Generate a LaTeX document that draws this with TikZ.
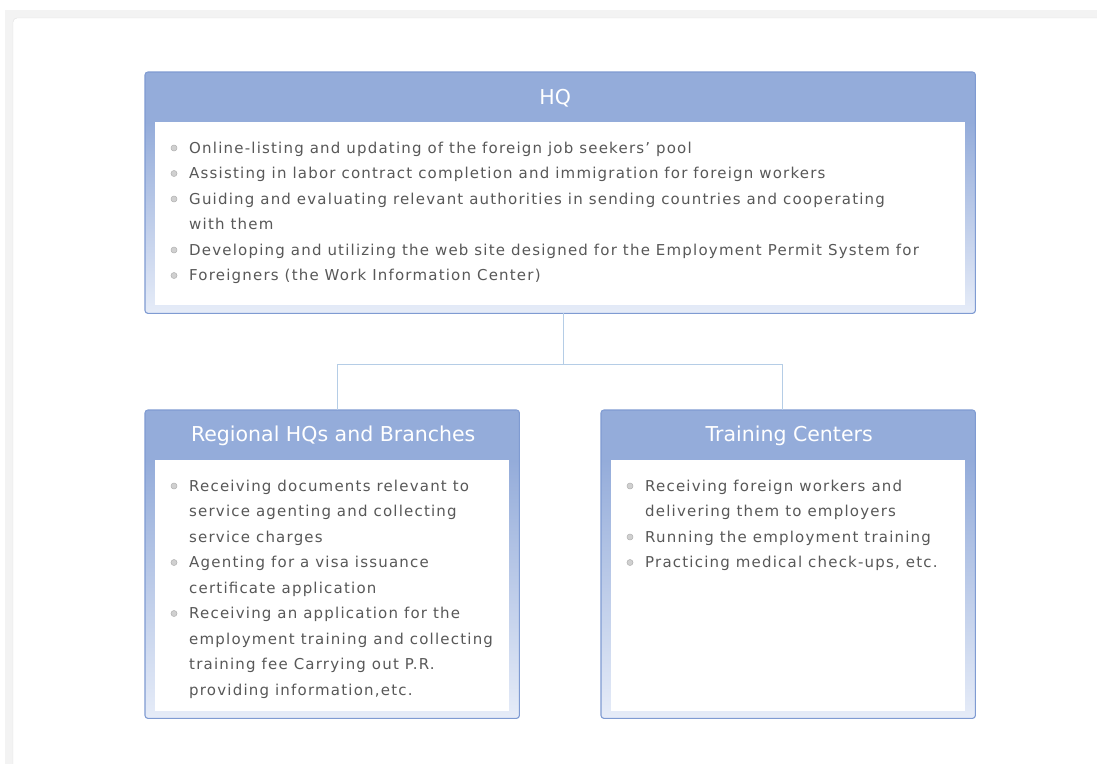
\documentclass[tikz,border=0pt]{standalone}
\usepackage{fontspec}
\setmainfont{DejaVu Sans}
\newfontfamily\itemfont[LetterSpace=8]{DejaVu Sans}
\usetikzlibrary{positioning}

\definecolor{hdrblue}{HTML}{94ACDA}
\definecolor{frameline}{HTML}{7F9BD2}
\definecolor{framefade}{HTML}{E6ECF8}
\definecolor{linkblue}{HTML}{B5CDE6}
\definecolor{itemgray}{HTML}{585858}
\definecolor{bulletgray}{HTML}{D0D0D0}
\definecolor{bulletrim}{HTML}{B0B0B0}
\definecolor{panelband}{HTML}{F3F3F3}
\definecolor{panelline}{HTML}{E0E0E0}

\begin{document}
\begin{tikzpicture}[x=1pt, y=-1pt,
    frame/.style={fill=hdrblue, rounded corners=3pt, anchor=north west, inner sep=0pt},
    fade/.style={top color=hdrblue, bottom color=framefade, rounded corners=2.5pt},
    outline/.style={draw=frameline, line width=1.1pt, rounded corners=3pt},
    body/.style={fill=white, anchor=north west, inner sep=0pt, outer sep=0pt},
    title/.style={text=white, font=\fontsize{20.5}{24}\selectfont},
    item/.style={anchor=base west, inner sep=0pt, text=itemgray, font=\itemfont\fontsize{15}{17}\selectfont},
    bullet/.style={fill=bulletgray, draw=bulletrim, line width=0.5pt},
    link/.style={draw=linkblue, line width=1pt}
]
\useasboundingbox (0,0) rectangle (1097,763);

% Panel
\fill[panelband] (5,10) rectangle (1110,780);
\draw[panelline, fill=white, rounded corners=4pt] (13,18) rectangle (1110,780);

% HQ
\node[frame, minimum width=830pt, minimum height=241pt] (hq) at (145,72) {};
\shade[fade] (hq.west |- 0,122) rectangle (hq.south east);
\draw[outline] (hq.north west) rectangle (hq.south east);
\node[body, minimum width=810pt, minimum height=183pt] (hqbody) at (155,122) {};
\node[title] (hqtitle) at ([xshift=-5pt, yshift=-26pt]hq.north) {HQ};
\foreach \txt [count=\i] in {Online-listing and updating of the foreign job seekers’ pool,
    Assisting in labor contract completion and immigration for foreign workers,
    Guiding and evaluating relevant authorities in sending countries and cooperating,
    with them,
    Developing and utilizing the web site designed for the Employment Permit System for,
    Foreigners (the Work Information Center)}
  \node[item] (hqline\i) at (189,{153+25.5*(\i-1)}) {\txt};
\foreach \i in {1,2,3,5,6}
  \fill[bullet] (174,{148+25.5*(\i-1)}) circle (3pt);

% Regional HQs and Branches
\node[frame, minimum width=374pt, minimum height=308pt] (reg) at (145,410) {};
\shade[fade] (reg.west |- 0,460) rectangle (reg.south east);
\draw[outline] (reg.north west) rectangle (reg.south east);
\node[body, minimum width=354pt, minimum height=251pt] (regbody) at (155,460) {};
\node[title] (regtitle) at ([xshift=1pt, yshift=-26pt]reg.north) {Regional HQs and Branches};
\foreach \txt [count=\i] in {Receiving documents relevant to,
    service agenting and collecting,
    service charges,
    Agenting for a visa issuance,
    certificate application,
    Receiving an application for the,
    employment training and collecting,
    training fee Carrying out P.R.,
    {providing information,etc.}}
  \node[item] (regline\i) at (189,{491+25.5*(\i-1)}) {\txt};
\foreach \i in {1,4,6}
  \fill[bullet] (174,{486+25.5*(\i-1)}) circle (3pt);

% Training Centers
\node[frame, minimum width=374pt, minimum height=308pt] (tc) at (601,410) {};
\shade[fade] (tc.west |- 0,460) rectangle (tc.south east);
\draw[outline] (tc.north west) rectangle (tc.south east);
\node[body, minimum width=354pt, minimum height=251pt] (tcbody) at (611,460) {};
\node[title] (tctitle) at ([xshift=1pt, yshift=-26pt]tc.north) {Training Centers};
\foreach \txt [count=\i] in {Receiving foreign workers and,
    delivering them to employers,
    Running the employment training,
    {Practicing medical check-ups, etc.}}
  \node[item] (tcline\i) at (645,{491+25.5*(\i-1)}) {\txt};
\foreach \i in {1,3,4}
  \fill[bullet] (630,{486+25.5*(\i-1)}) circle (3pt);

% Connectors
\draw[link] ([xshift=3pt]hq.south) -- ++(0,51) coordinate (split);
\draw[link] ([xshift=5pt]reg.north) |- (split) -| ([xshift=-6pt]tc.north);

\end{tikzpicture}
\end{document}
